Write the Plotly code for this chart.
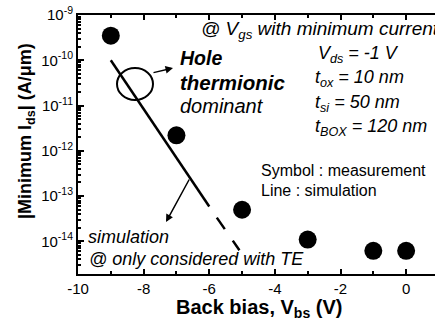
import plotly.graph_objects as go

# measured data (symbols)
meas_vbs = [-9, -7, -5, -3, -1, 0]
meas_ids = [3.5e-10, 2.2e-12, 5.0e-14, 1.1e-14, 6.2e-15, 6.2e-15]

# simulation (solid line, thermionic emission)
sim_vbs = [-9, -6]
sim_ids = [1.0e-10, 5.9e-14]
# simulation extrapolation (dashed)
sim_ext_vbs = [-5.77, -5.08]
sim_ext_ids = [3.35e-14, 6.4e-15]

x_ticks = [-10, -8, -6, -4, -2, 0]
y_ticks = [1e-14, 1e-13, 1e-12, 1e-11, 1e-10, 1e-9]
y_ticktext = ["10<sup>-14</sup>", "10<sup>-13</sup>", "10<sup>-12</sup>",
              "10<sup>-11</sup>", "10<sup>-10</sup>", "10<sup>-9</sup>"]

W, H = 435, 320
L, R, T, B = 78, 0, 15, 46
FONT = "Liberation Sans"


def px(x):
    return (x - L) / (W - L - R)


def py(y):
    return (H - B - y) / (H - B - T)


fig = go.Figure()
fig.add_trace(go.Scatter(x=sim_vbs, y=sim_ids, mode="lines",
                         line=dict(color="black", width=2.5), showlegend=False))
fig.add_trace(go.Scatter(x=sim_ext_vbs, y=sim_ext_ids, mode="lines",
                         line=dict(color="black", width=2.5, dash="14px,14px"),
                         showlegend=False))
fig.add_trace(go.Scatter(x=meas_vbs, y=meas_ids, mode="markers",
                         marker=dict(color="black", size=18), showlegend=False))

ann = []


def txt(text, x, y, size=16, xanchor="left", yanchor="middle", **kw):
    ann.append(dict(text=text, x=px(x), y=py(y), xref="paper", yref="paper",
                    xanchor=xanchor, yanchor=yanchor, showarrow=False,
                    font=dict(family=FONT, size=size, color="black"), **kw))


txt("<i>@ V<sub>gs</sub> with minimum current</i>", 199, 30, size=19)
txt("<b><i>Hole</i></b>", 178, 58, size=19.5)
txt("<b><i>thermionic</i></b>", 178, 82, size=20.5)
txt("<i>dominant</i>", 178, 106, size=20)
txt("<i>V<sub>ds</sub> = -1 V</i>", 316, 54, size=18)
txt("<i>t<sub>ox</sub> = 10 nm</i>", 313, 79, size=18)
txt("<i>t<sub>si</sub> = 50 nm</i>", 313, 103, size=18)
txt("<i>t<sub>BOX</sub> = 120 nm</i>", 313, 127, size=18)
txt("Symbol : measurement", 259, 170, size=16)
txt("Line : simulation", 259, 190, size=16)
txt("<i>simulation</i>", 86, 237, size=18)
txt("<i>@ only considered with TE</i>", 87, 259, size=18)

# axis titles
txt("<b>Back bias, V<sub>bs</sub> (V)</b>", 259, 308, size=20, xanchor="center")
txt("<b>|Minimum I<sub>ds</sub>| (A/μm)</b>", 26, 131, size=18, xanchor="center",
    textangle=-90)

# arrows
ann.append(dict(x=px(173), y=py(68), xref="paper", yref="paper",
                ax=152 - 173, ay=73 - 68, showarrow=True, arrowhead=2,
                arrowsize=1, arrowwidth=1.5, arrowcolor="black", text=""))
ann.append(dict(x=px(166), y=py(222), xref="paper", yref="paper",
                ax=190 - 166, ay=178 - 222, showarrow=True, arrowhead=2,
                arrowsize=1, arrowwidth=1.5, arrowcolor="black", text=""))

shapes = [dict(type="circle", xref="paper", yref="paper",
               x0=px(117), x1=px(153), y0=py(100), y1=py(68),
               line=dict(color="black", width=2))]

fig.update_layout(
    width=W, height=H,
    margin=dict(l=L, r=R, t=T, b=B, pad=0),
    paper_bgcolor="white", plot_bgcolor="white",
    annotations=ann, shapes=shapes,
    font=dict(family=FONT, size=15, color="black"),
    xaxis=dict(range=[-10, 0.88], tickvals=x_ticks,
               ticktext=[str(v) for v in x_ticks],
               ticks="inside", ticklen=5, tickwidth=1.5, tickcolor="black",
               showline=True, linewidth=2, linecolor="black", mirror="ticks",
               showgrid=False, zeroline=False,
               minor=dict(ticks="inside", dtick=1, ticklen=3, tickcolor="black",
                          showgrid=False),
               tickfont=dict(family=FONT, size=15, color="black")),
    yaxis=dict(type="log", range=[-14.72, -9],
               tickvals=y_ticks, ticktext=y_ticktext,
               ticks="inside", ticklen=6, tickwidth=1.5, tickcolor="black",
               showline=True, linewidth=2, linecolor="black", mirror=False,
               showgrid=False, zeroline=False,
               minor=dict(ticks="inside", dtick="D1", ticklen=3,
                          tickcolor="black", showgrid=False),
               tickfont=dict(family=FONT, size=15, color="black")),
)

fig.write_html("out.html")
